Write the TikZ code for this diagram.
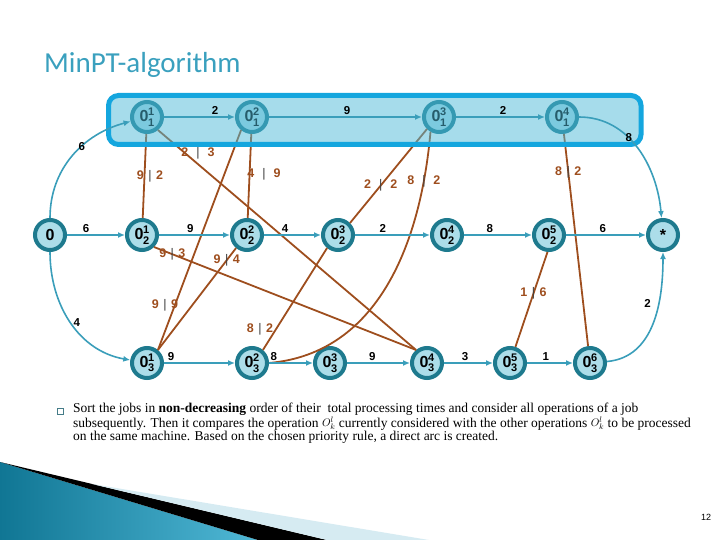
\documentclass[tikz,border=0pt]{standalone}
\usepackage{fontspec}
\setmainfont{Liberation Serif}
\setsansfont{Liberation Sans}
\newfontfamily\titlefont{Carlito}
\usetikzlibrary{arrows.meta, positioning, calc}

\definecolor{ringteal}{RGB}{30,122,142}
\definecolor{nodefill}{RGB}{172,221,233}
\definecolor{arcblue}{RGB}{58,158,186}
\definecolor{arcbrown}{RGB}{158,78,30}
\definecolor{boxblue}{RGB}{20,166,222}
\definecolor{boxfill}{RGB}{77,185,215}
\definecolor{titleblue}{RGB}{58,160,190}
\definecolor{swdark}{RGB}{16,118,148}
\definecolor{swlight}{RGB}{80,184,214}
\definecolor{swpale}{RGB}{214,235,242}

\newcommand{\op}[2]{0\kern-0.3pt\makebox[0pt][l]{\raisebox{6pt}{\fontsize{11}{11}\selectfont #2}}\raisebox{-4.5pt}{\fontsize{11}{11}\selectfont #1}}
\newcommand{\pair}[3][4.5pt]{#2\hspace{#1}{\color{black!75}\mdseries|}\hspace{#1}#3}
\newcommand{\oper}{\raisebox{1.2pt}{\fontsize{11}{11}\selectfont$O^{l}_{k}$}}

\begin{document}
\begin{tikzpicture}[
      x=1pt, y=1pt,
      on grid,
      >={Latex[length=7pt,width=6pt]},
      opnode/.style={circle, draw=ringteal, line width=4pt, fill=nodefill, minimum size=30pt, inner sep=0pt, font=\sffamily\bfseries\fontsize{16}{16}\selectfont},
      conj/.style={->, draw=arcblue, line width=1.6pt},
      disj/.style={draw=arcbrown, line width=1.8pt},
      wlbl/.style={font=\sffamily\bfseries\fontsize{11.5}{11.5}\selectfont, inner sep=1pt},
      dlbl/.style={font=\sffamily\bfseries\fontsize{12.5}{12.5}\selectfont, inner sep=1pt, text=arcbrown},
      hlbox/.style={draw=boxblue, line width=5pt, fill=boxfill, fill opacity=0.5, rounded corners=10pt}
      ]
      \useasboundingbox (0,0) rectangle (720,-540);

      % --- slide decoration ---
      \shade[left color=swdark, right color=swlight] (0,-462) -- (258,-540) -- (0,-540) -- cycle;
      \fill[black] (0,-462) -- (327,-540) -- (258,-540) -- cycle;
      \fill[swpale] (92,-484) -- (429,-540) -- (327,-540) -- cycle;
      \node[anchor=base west, inner sep=0pt, text=titleblue, font=\titlefont\fontsize{29}{29}\selectfont] (title) at (44,-73) {MinPT-algorithm};
      \node[font=\sffamily\fontsize{9}{9}\selectfont] (pgno) at (706,-517) {12};

      % --- operations, job 1 ---
      \node[opnode] (o11) at (147,-117) {\op{1}{1}};
      \node[opnode, right=105pt of o11] (o12) {\op{1}{2}};
      \node[opnode, right=187pt of o12] (o13) {\op{1}{3}};
      \node[opnode, right=123pt of o13] (o14) {\op{1}{4}};

      % --- operations, job 2 ---
      \node[opnode] (n0) at (50,-235) {0};
      \node[opnode, right=92pt of n0] (o21) {\op{2}{1}};
      \node[opnode, right=105pt of o21] (o22) {\op{2}{2}};
      \node[opnode, right=91pt of o22] (o23) {\op{2}{3}};
      \node[opnode, right=109pt of o23] (o24) {\op{2}{4}};
      \node[opnode, right=102pt of o24] (o25) {\op{2}{5}};
      \node[opnode, right=114pt of o25] (star) {\raisebox{-4pt}{*}};

      % --- operations, job 3 ---
      \node[opnode] (o31) at (147,-363) {\op{3}{1}};
      \node[opnode, right=105pt of o31] (o32) {\op{3}{2}};
      \node[opnode, right=78pt of o32] (o33) {\op{3}{3}};
      \node[opnode, right=97pt of o33] (o34) {\op{3}{4}};
      \node[opnode, right=83pt of o34] (o35) {\op{3}{5}};
      \node[opnode, right=80pt of o35] (o36) {\op{3}{6}};

      % --- disjunctive arcs ---
      \draw[disj] (o11) -- node[dlbl, pos=0.5, xshift=5.5pt] {\pair92} (o21);
      \draw[disj] (o11.-50) -- node[dlbl, pos=0.134, xshift=5.5pt, yshift=6.5pt] {\pair[8pt]23} (o34.130);
      \draw[disj] (o12) -- node[dlbl, pos=0.48, xshift=14.5pt] {\pair[8pt]49} (o22);
      \draw[disj] (o12.-130) -- node[dlbl, pos=0.81, xshift=-8.7pt, yshift=3.3pt] {\pair99} (o31.50);
      \draw[disj] (o21.-45) -- node[dlbl, pos=0.07] {\pair93} (o34.130);
      \draw[disj] (o22.-130) -- node[dlbl, pos=0.12] {\pair94} (o31.50);
      \draw[disj] (o13.-135) -- node[dlbl, pos=0.6] {\pair[8pt]22} (o23.45);
      \draw[disj] (o13.-120) to[out=-95, in=5] node[dlbl, pos=0.15] {\pair[8pt]82} (o32.0);
      \draw[disj] (o23.-130) -- node[dlbl, pos=0.8, xshift=-15.7pt] {\pair82} (o32.50);
      \draw[disj] (o14) -- node[dlbl, pos=0.18] {\pair82} (o36);
      \draw[disj] (o25.-95) -- node[dlbl, pos=0.44] {\pair16} (o35);

      % --- job arcs, rows 2 and 3 ---
      \draw[conj] (n0) -- node[wlbl, pos=0.33, above=1pt] {6} (o21);
      \draw[conj] (o21) -- node[wlbl, pos=0.44, above=1pt] {9} (o22);
      \draw[conj] (o22) -- node[wlbl, pos=0.37, above=1pt] {4} (o23);
      \draw[conj] (o23) -- node[wlbl, pos=0.37, above=1pt] {2} (o24);
      \draw[conj] (o24) -- node[wlbl, pos=0.38, above=1pt] {8} (o25);
      \draw[conj] (o25) -- node[wlbl, pos=0.46, above=1pt] {6} (star);
      \draw[conj] (n0) to[out=-90, in=170] node[wlbl, pos=0.5, xshift=6pt] {4} (o31);
      \draw[conj] (o31) -- node[wlbl, pos=0.1, above=1pt] {9} (o32);
      \draw[conj] (o32) -- node[wlbl, pos=0.11, above=1pt] {8} (o33);
      \draw[conj] (o33) -- node[wlbl, pos=0.4, above=1pt] {9} (o34);
      \draw[conj] (o34) -- node[wlbl, pos=0.43, above=1pt] {3} (o35);
      \draw[conj] (o35) -- node[wlbl, pos=0.41, above=1pt] {1} (o36);
      \draw[conj] (o36) to[out=5, in=-90] node[wlbl, pos=0.65, left=6pt] {2} (star);

      % --- machine 1 highlight ---
      \draw[hlbox] (108.5,-95.5) rectangle (641,-144.5);

      \draw[conj] (n0) to[out=90, in=195] node[wlbl, pos=0.6] {6} (o11);
      \draw[conj] (o11) -- node[wlbl, pos=0.72, above=1pt] {2} (o12);
      \draw[conj] (o12) -- node[wlbl, pos=0.51, above=1pt] {9} (o13);
      \draw[conj] (o13) -- node[wlbl, pos=0.53, above=1pt] {2} (o14);
      \draw[conj] (o14) to[out=0, in=95] node[wlbl, pos=0.4] {8} (star);

      % --- explanation ---
      \node[draw=ringteal!60!gray, line width=0.6pt, minimum size=6pt, inner sep=0pt] (bullet) at (60,-411) {};
      \node[anchor=north west, align=left, inner sep=0pt, font=\fontsize{13.5}{12.6}\selectfont] (expl) at (73,-403)
        {Sort the jobs in \textbf{non-decreasing} order of their\ \ total processing times and consider all operations of a job\\
         subsequently. Then it compares the operation \oper{} currently considered with the other operations \oper{} to be processed\\
         on the same machine. Based on the chosen priority rule, a direct arc is created.};
\end{tikzpicture}
\end{document}
